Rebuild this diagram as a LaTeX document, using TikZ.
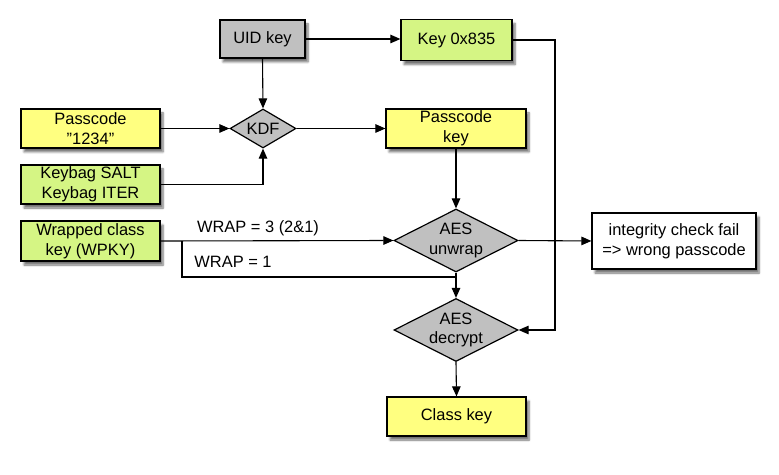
\documentclass[tikz,border=0pt]{standalone}
\usepackage{fontspec}
\setmainfont{Liberation Sans}
\usetikzlibrary{arrows.meta,shapes.geometric,shadows.blur}
\definecolor{ykey}{HTML}{FFFF80}
\definecolor{gkey}{HTML}{D5F584}
\definecolor{grk}{HTML}{C0C0C0}
\begin{document}
\begin{tikzpicture}[x=1bp,y=-1bp,
  font=\fontsize{16.5}{20}\selectfont,
  box/.style={draw=black, line width=1.2bp, align=center, inner sep=0pt,
    blur shadow={shadow xshift=3bp, shadow yshift=-4bp, shadow opacity=55, shadow blur steps=6}},
  diam/.style={diamond, draw=black, fill=grk, line width=1.2bp, inner sep=0pt, aspect=2},
  ln/.style={draw=black, line width=1.1bp},
  arr/.style={ln, -{Triangle[length=10bp,width=8.5bp]}},
  lbl/.style={inner sep=0pt, anchor=base}
]
\useasboundingbox (0,0) rectangle (779,475);

% nodes
\node[box, fill=grk, minimum width=85bp, minimum height=38bp] (uid) at (262.5,39) {UID key};
\node[box, fill=gkey, minimum width=111bp, minimum height=41bp] (k835) at (456.5,40) {Key 0x835};
\node[box, fill=ykey, minimum width=139bp, minimum height=39bp] (pass) at (90.5,128.5) {Passcode\\{\char34}1234{\char34}};
\node[box, fill=gkey, minimum width=139bp, minimum height=39bp] (bag) at (90.5,184.5) {Keybag SALT\\Keybag ITER};
\node[box, fill=gkey, minimum width=139bp, minimum height=40bp] (wpky) at (90.5,241) {Wrapped class\\key (WPKY)};
\node[box, fill=ykey, minimum width=140bp, minimum height=39bp] (pkey) at (456,128.5) {Passcode\\key};
\node[box, fill=white, minimum width=164bp, minimum height=56bp] (fail) at (674,241) {integrity check fail\\=> wrong passcode};
\node[box, fill=ykey, minimum width=139bp, minimum height=39bp] (ckey) at (456.5,416.5) {Class key};

\node[diam, minimum width=66bp, minimum height=39bp,
  label={center:KDF}] (kdf) at (263,128.5) {};
\node[diam, minimum width=124bp, minimum height=63bp,
  label={[align=center]center:AES\\unwrap}] (unwrap) at (456,240.5) {};
\node[diam, minimum width=124bp, minimum height=63bp,
  label={[align=center]center:AES\\decrypt}] (decrypt) at (456,330) {};

\coordinate (br) at (182,241);
\coordinate (j) at (456,277);
\coordinate (rx) at (555,40);

% connectors
\draw[arr] (uid.east) -- (uid.east -| k835.west);
\draw[arr] (uid.south) -- (kdf.north);
\draw[arr] (pass.east) -- (kdf.west);
\draw[arr] (bag.east) -| (kdf.south);
\draw[arr] (kdf.east) -- (kdf.east -| pkey.west);
\draw[arr] (pkey.south) -- (unwrap.north);
\draw[arr] (wpky.east) -- (unwrap.west);
\draw[ln] (br) |- (j);
\draw[arr] (unwrap.south) -- (decrypt.north);
\draw[arr] (unwrap.east) -- (fail.west);
\draw[arr] (k835.east) -- (rx) |- (decrypt.east);
\draw[arr] (decrypt.south) -- (ckey.north);

% labels
\node[lbl] (w3) at (258,233) {WRAP = 3 (2\&1)};
\node[lbl] (w1) at (233,268) {WRAP = 1};
\end{tikzpicture}
\end{document}
